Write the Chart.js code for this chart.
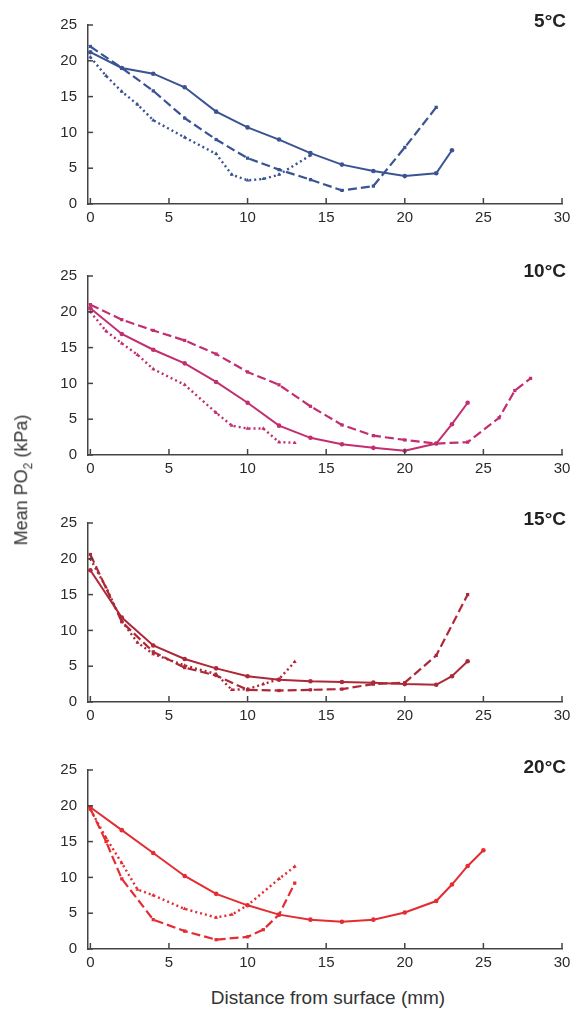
<!DOCTYPE html>
<html>
<head>
<meta charset="utf-8">
<script src="https://cdn.jsdelivr.net/npm/chart.js@4/dist/chart.umd.min.js"></script>
<style>
  body { margin: 0; background: #fff; width: 577px; height: 1013px; position: relative; overflow: hidden;
         font-family: 'Liberation Sans', Arial, sans-serif; color: #333; }
  canvas { position: absolute; left: 0; }
  .temp { position: absolute; right: 11px; font-weight: bold; font-size: 19px; color: #222; }
  .ytitle { position: absolute; left: 23px; top: 480px; transform: translate(-50%, -50%) rotate(-90deg);
            white-space: nowrap; font-size: 18px; color: #333; }
  .xtitle { position: absolute; left: 328px; top: 998px; transform: translate(-50%, -50%);
            white-space: nowrap; font-size: 19px; color: #333; }
</style>
</head>
<body>
<canvas id="c5" width="577" height="227"></canvas>
<canvas id="c10" width="577" height="227"></canvas>
<canvas id="c15" width="577" height="227"></canvas>
<canvas id="c20" width="577" height="227"></canvas>
<div class="temp" style="top:10px">5°C</div>
<div class="temp" style="top:260px">10°C</div>
<div class="temp" style="top:508px">15°C</div>
<div class="temp" style="top:756px">20°C</div>
<div class="ytitle">Mean PO<sub style="font-size:12px">2</sub> (kPa)</div>
<div class="xtitle">Distance from surface (mm)</div>

<script>
// tick labels
const xTicks = [0, 5, 10, 15, 20, 25, 30];
const yTicks = [0, 5, 10, 15, 20, 25];

// 5°C
const x5Solid = [0, 2, 4, 6, 8, 10, 12, 14, 16, 18, 20, 22, 23];
const y5Solid = [21.2, 19, 18.2, 16.3, 12.9, 10.7, 9, 7.1, 5.5, 4.6, 3.9, 4.3, 7.5];
const x5Dash = [0, 2, 4, 6, 8, 10, 12, 14, 16, 18, 20, 22];
const y5Dash = [22, 19, 15.8, 12, 9, 6.4, 4.8, 3.4, 1.9, 2.5, 7.9, 13.5];
const x5Dot = [0, 1, 2, 3, 4, 6, 8, 9, 10, 11, 12, 14];
const y5Dot = [20.5, 17.9, 15.7, 13.9, 11.7, 9.3, 7, 4.1, 3.3, 3.5, 4.1, 6.8];

// 10°C
const x10Solid = [0, 2, 4, 6, 8, 10, 12, 14, 16, 18, 20, 22, 23, 24];
const y10Solid = [20.5, 16.9, 14.7, 12.8, 10.2, 7.3, 4.1, 2.4, 1.5, 1, 0.6, 1.6, 4.3, 7.3];
const x10Dash = [0, 2, 4, 6, 8, 10, 12, 14, 16, 18, 20, 22, 24, 26, 27, 28];
const y10Dash = [21, 18.9, 17.4, 16, 14.1, 11.6, 9.8, 6.8, 4.2, 2.7, 2.1, 1.6, 1.8, 5.2, 9, 10.7];
const x10Dot = [0, 1, 2, 3, 4, 6, 8, 9, 10, 11, 12, 13];
const y10Dot = [20, 17.3, 15.6, 14, 12, 9.8, 5.9, 4.1, 3.7, 3.7, 1.8, 1.7];

// 15°C
const x15Solid = [0, 2, 4, 6, 8, 10, 12, 14, 16, 18, 20, 22, 23, 24];
const y15Solid = [18.4, 11.8, 7.9, 6, 4.7, 3.6, 3.1, 2.9, 2.8, 2.7, 2.5, 2.4, 3.6, 5.7];
const x15Dash = [0, 2, 4, 6, 8, 10, 12, 14, 16, 18, 20, 22, 24];
const y15Dash = [20.6, 11.2, 7, 4.8, 3.7, 1.7, 1.6, 1.7, 1.8, 2.5, 2.7, 6.5, 15];
const x15Dot = [0, 1, 2, 3, 4, 6, 8, 9, 10, 11, 12, 13];
const y15Dot = [20, 16, 11.3, 8.3, 6.7, 5.1, 3.9, 1.7, 1.8, 2.5, 3.2, 5.6];

// 20°C
const x20Solid = [0, 2, 4, 6, 8, 10, 12, 14, 16, 18, 20, 22, 23, 24, 25];
const y20Solid = [19.8, 16.6, 13.4, 10.2, 7.7, 6.1, 4.8, 4.1, 3.8, 4.1, 5.1, 6.7, 9, 11.6, 13.8];
const x20Dash = [0, 1, 2, 4, 6, 8, 10, 11, 12, 13];
const y20Dash = [19.6, 15, 9.8, 4.1, 2.5, 1.3, 1.7, 2.7, 4.8, 9.2];
const x20Dot = [0, 1, 2, 3, 4, 6, 8, 9, 10, 12, 13];
const y20Dot = [19.5, 15.5, 12, 8.3, 7.5, 5.6, 4.4, 4.8, 6.1, 9.8, 11.5];

const panels = [
    { id: 'c5',  top: 5,   color: '#3a5392', sets: [[x5Solid, y5Solid], [x5Dash, y5Dash], [x5Dot, y5Dot]] },
    { id: 'c10', top: 256, color: '#c22f70', sets: [[x10Solid, y10Solid], [x10Dash, y10Dash], [x10Dot, y10Dot]] },
    { id: 'c15', top: 503, color: '#ad2838', sets: [[x15Solid, y15Solid], [x15Dash, y15Dash], [x15Dot, y15Dot]] },
    { id: 'c20', top: 750, color: '#e42c33', sets: [[x20Solid, y20Solid], [x20Dash, y20Dash], [x20Dot, y20Dot]] }
];

const styles = [
    { dash: [], width: 2, point: 'circle' },
    { dash: [9, 4], width: 2.2, point: 'rect' },
    { dash: [2, 3], width: 2.4, point: 'triangle' }
];

const FONT = "'Liberation Sans', Arial, sans-serif";

// small tick marks drawn inward from the axes
const innerTicks = {
    id: 'innerTicks',
    afterDraw(chart) {
        const ctx = chart.ctx;
        const xs = chart.scales.x, ys = chart.scales.y;
        const area = chart.chartArea;
        ctx.save();
        ctx.strokeStyle = '#444';
        ctx.lineWidth = 1.5;
        xTicks.forEach(v => {
            const px = xs.getPixelForValue(v);
            ctx.beginPath();
            ctx.moveTo(px, area.bottom);
            ctx.lineTo(px, area.bottom - 6);
            ctx.stroke();
        });
        yTicks.forEach(v => {
            const py = ys.getPixelForValue(v);
            ctx.beginPath();
            ctx.moveTo(area.left, py);
            ctx.lineTo(area.left + 5, py);
            ctx.stroke();
        });
        ctx.restore();
    }
};

panels.forEach(p => {
    const canvas = document.getElementById(p.id);
    canvas.style.top = p.top + 'px';
    new Chart(canvas, {
        type: 'line',
        data: {
            datasets: p.sets.map((s, i) => ({
                data: s[0].map((x, k) => ({ x: x, y: s[1][k] })),
                borderColor: p.color,
                backgroundColor: p.color,
                borderWidth: styles[i].width,
                borderDash: styles[i].dash,
                pointStyle: styles[i].point,
                pointRadius: 2.3,
                pointBorderWidth: 0,
                tension: 0,
                fill: false
            }))
        },
        options: {
            responsive: false,
            animation: false,
            events: [],
            layout: { padding: { top: 12, right: 15, left: 0, bottom: 0 } },
            plugins: { legend: { display: false }, tooltip: { enabled: false } },
            scales: {
                x: {
                    type: 'linear',
                    min: -0.15,
                    max: 30,
                    afterBuildTicks: s => { s.ticks = xTicks.map(v => ({ value: v })); },
                    afterFit: s => { s.height = 28; },
                    grid: { display: true, drawOnChartArea: false, drawTicks: false },
                    border: { display: true, color: '#444', width: 1.5 },
                    ticks: { color: '#2a2a2a', padding: 5, maxRotation: 0, font: { family: FONT, size: 15 } }
                },
                y: {
                    min: 0,
                    max: 25,
                    afterBuildTicks: s => { s.ticks = yTicks.map(v => ({ value: v })); },
                    afterFit: s => { s.width = 88; },
                    grid: { display: true, drawOnChartArea: false, drawTicks: false },
                    border: { display: true, color: '#444', width: 1.5 },
                    ticks: { color: '#2a2a2a', padding: 11, font: { family: FONT, size: 15 } }
                }
            }
        },
        plugins: [innerTicks]
    });
});
</script>
</body>
</html>
